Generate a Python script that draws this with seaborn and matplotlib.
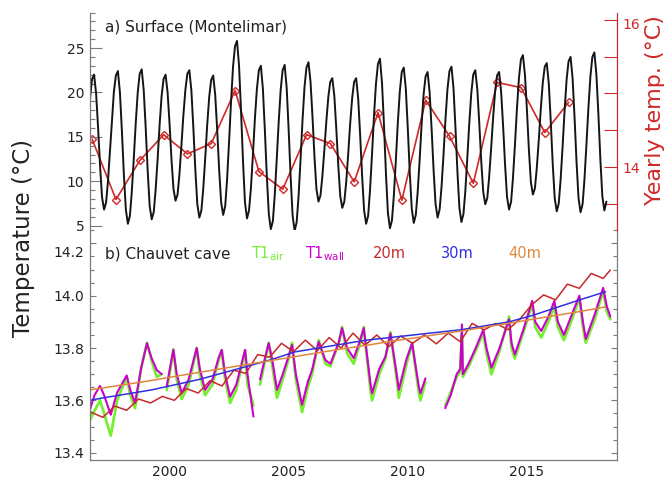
import numpy as np
import pandas as pd
import matplotlib
matplotlib.use("Agg")
import matplotlib.pyplot as plt
import seaborn as sns
from matplotlib.ticker import MultipleLocator, FixedLocator, FixedFormatter, FormatStrFormatter

sns.set_theme(style="white")
plt.rcParams["font.family"] = ["DejaVu Sans"]

# ---------------------------------------------------------------------------
# a) Montelimar surface air temperature, first-of-month values (°C)
surface_start = "1997-06-01"
surface_temp = [
    19.4, 21.5, 22.0, 19.9, 16.1, 11.7, 8.2,                          # 1997 Jun-Dec
    6.8, 7.6, 9.9, 13.4, 16.9, 20.1, 21.9, 22.4, 20.0, 15.7, 10.7, 6.8,  # 1998
    5.2, 6.1, 8.7, 12.5, 16.5, 20.0, 22.1, 22.6, 20.2, 16.0, 11.1, 7.2,  # 1999
    5.7, 6.5, 9.0, 12.5, 16.3, 19.6, 21.5, 22.0, 20.0, 16.5, 12.3, 9.1,  # 2000
    7.8, 8.5, 10.7, 14.0, 17.4, 20.3, 22.1, 22.5, 20.2, 16.0, 11.2, 7.4, # 2001
    5.9, 6.7, 9.1, 12.6, 16.3, 19.5, 21.4, 21.9, 19.7, 15.8, 11.2, 7.6,  # 2002
    6.2, 7.2, 10.1, 14.4, 18.9, 22.9, 25.2, 25.8, 23.0, 18.0, 12.2, 7.6, # 2003
    5.8, 6.7, 9.2, 13.0, 17.0, 20.4, 22.5, 23.0, 20.4, 15.8, 10.5, 6.3,  # 2004
    4.6, 5.5, 8.3, 12.4, 16.6, 20.3, 22.5, 23.1, 20.5, 15.8, 10.4, 6.1,  # 2005
    4.4, 5.4, 8.2, 12.4, 16.8, 20.6, 22.8, 23.4, 21.2, 17.3, 12.7, 9.1,  # 2006
    7.7, 8.4, 10.5, 13.5, 16.7, 19.5, 21.2, 21.6, 19.6, 15.9, 11.7, 8.3, # 2007
    7.0, 7.7, 9.9, 13.1, 16.5, 19.4, 21.2, 21.6, 19.3, 15.2, 10.5, 6.7,  # 2008
    5.2, 6.1, 8.9, 13.0, 17.3, 21.0, 23.2, 23.8, 21.1, 16.4, 10.8, 6.4,  # 2009
    4.7, 5.6, 8.3, 12.3, 16.5, 20.1, 22.3, 22.8, 20.4, 16.0, 10.9, 6.9,  # 2010
    5.3, 6.2, 8.7, 12.4, 16.4, 19.8, 21.8, 22.3, 20.0, 15.9, 11.2, 7.4,  # 2011
    5.9, 6.8, 9.3, 13.0, 17.0, 20.4, 22.4, 22.9, 20.5, 16.1, 11.0, 7.0,  # 2012
    5.4, 6.3, 8.8, 12.6, 16.5, 19.9, 22.0, 22.5, 20.4, 16.6, 12.2, 8.8,  # 2013
    7.4, 8.1, 10.4, 13.7, 17.1, 20.1, 21.9, 22.3, 20.1, 16.3, 11.8, 8.2, # 2014
    6.8, 7.7, 10.3, 14.1, 18.1, 21.6, 23.7, 24.2, 22.0, 18.1, 13.5, 9.9, # 2015
    8.5, 9.2, 11.5, 14.7, 18.1, 21.1, 22.9, 23.3, 21.0, 16.8, 11.9, 8.1, # 2016
    6.6, 7.5, 10.1, 13.9, 17.9, 21.4, 23.5, 24.0, 21.6, 17.2, 12.1, 8.1, # 2017
    6.5, 7.4, 10.1, 14.1, 18.2, 21.8, 24.0, 24.5, 22.0, 17.6, 12.4, 8.3, # 2018
    6.7, 7.7,                                                          # 2019 Jan-Feb
]

# Yearly mean temperature (°C), plotted at mid-year
yearly_years = list(range(1997, 2018))
yearly_temp = [14.38, 13.56, 14.09, 14.44, 14.18, 14.32, 15.04, 13.94, 13.70, 14.44,
               14.32, 13.80, 14.74, 13.55, 14.91, 14.42, 13.78, 15.15, 15.08, 14.47, 14.88]

# ---------------------------------------------------------------------------
# b) Chauvet cave temperatures (°C)
# T1 sensors: decimal year; None separates recording gaps
t1_time = [1997.38, 1997.60, 1997.83, 1998.00, 1998.28, 1998.55, 1998.95, 1999.10, 1999.30,
           1999.55, 1999.80, 2000.00, 2000.21, 2000.42, None,
           2000.63, 2000.80, 2000.91, 2001.05, 2001.26, 2001.55, 2001.89, 2002.02, 2002.24,
           2002.55, 2002.80, 2002.94, 2003.08, 2003.29, 2003.55, 2003.92, 2004.02, 2004.27, None,
           2004.55, 2004.75, 2004.91, 2005.05, 2005.26, 2005.50, 2005.75, 2005.89, 2006.05,
           2006.31, 2006.55, 2006.73, 2007.01, 2007.29, 2007.50, 2007.85, 2007.99, 2008.20,
           2008.48, 2008.75, 2008.90, 2009.18, 2009.25, 2009.55, 2009.81, 2010.02, 2010.30,
           2010.37, 2010.70, 2010.93, 2011.21, 2011.28, 2011.49, None,
           2012.32, 2012.55, 2012.80, 2012.95, 2013.02, 2013.06, 2013.30, 2013.60, 2013.92,
           2014.05, 2014.26, 2014.60, 2015.00, 2015.10, 2015.24, 2015.60, 2015.97, 2016.10,
           2016.35, 2016.65, 2016.90, 2017.05, 2017.30, 2017.60, 2017.95, 2018.10, 2018.22,
           2018.60, 2018.95, 2019.10, 2019.25]
t1_wall = [13.557, 13.620, 13.655, 13.620, 13.545, 13.630, 13.695, 13.640, 13.590,
           13.720, 13.818, 13.760, 13.716, 13.700, None,
           13.653, 13.740, 13.793, 13.700, 13.627, 13.680, 13.800, 13.720, 13.640,
           13.680, 13.760, 13.793, 13.700, 13.614, 13.660, 13.793, 13.700, 13.538, None,
           13.680, 13.760, 13.818, 13.760, 13.640, 13.700, 13.770, 13.812, 13.700,
           13.583, 13.670, 13.716, 13.824, 13.754, 13.740, 13.820, 13.876, 13.800,
           13.761, 13.830, 13.876, 13.665, 13.627, 13.720, 13.767, 13.856, 13.690,
           13.640, 13.760, 13.818, 13.653, 13.627, 13.684, None,
           13.570, 13.620, 13.700, 13.720, 13.890, 13.700, 13.740, 13.800, 13.870,
           13.800, 13.725, 13.800, 13.910, 13.820, 13.775, 13.870, 13.980, 13.900,
           13.865, 13.920, 13.980, 13.900, 13.850, 13.920, 14.000, 13.900, 13.835,
           13.930, 14.030, 13.960, 13.920]
t1_air = [13.520, 13.560, 13.600, 13.550, 13.465, 13.600, 13.690, 13.620, 13.570,
          13.720, 13.820, 13.750, 13.690, 13.700, None,
          13.640, 13.730, 13.795, 13.680, 13.605, 13.660, 13.800, 13.700, 13.620,
          13.660, 13.750, 13.790, 13.680, 13.590, 13.640, 13.790, 13.660, 13.580, None,
          13.660, 13.750, 13.820, 13.740, 13.610, 13.680, 13.760, 13.820, 13.680,
          13.555, 13.650, 13.700, 13.830, 13.740, 13.730, 13.820, 13.880, 13.780,
          13.740, 13.820, 13.880, 13.640, 13.600, 13.700, 13.760, 13.860, 13.670,
          13.610, 13.740, 13.820, 13.630, 13.600, 13.670, None,
          13.580, 13.630, 13.690, 13.710, 13.850, 13.690, 13.730, 13.790, 13.860,
          13.780, 13.700, 13.790, 13.920, 13.800, 13.760, 13.860, 13.970, 13.880,
          13.840, 13.900, 13.960, 13.880, 13.830, 13.900, 13.990, 13.880, 13.820,
          13.910, 14.020, 13.940, 13.910]

# Modelled temperature at 20 m depth (decimal year, value)
d20_time = [1997.40, 1997.95, 1998.45, 1998.95, 1999.45, 1999.95, 2000.45, 2000.95, 2001.45,
            2001.95, 2002.45, 2002.95, 2003.45, 2003.95, 2004.45, 2004.95, 2005.45, 2005.95,
            2006.45, 2006.95, 2007.45, 2007.95, 2008.45, 2008.95, 2009.45, 2009.95, 2010.45,
            2010.95, 2011.45, 2011.95, 2012.45, 2012.95, 2013.45, 2013.95, 2014.45, 2014.95,
            2015.45, 2015.95, 2016.45, 2016.95, 2017.45, 2017.95, 2018.45, 2018.95, 2019.25]
d20_temp = [13.557, 13.535, 13.578, 13.562, 13.605, 13.590, 13.615, 13.600, 13.645,
            13.628, 13.675, 13.655, 13.715, 13.703, 13.775, 13.765, 13.818, 13.786,
            13.830, 13.790, 13.840, 13.800, 13.857, 13.810, 13.850, 13.805, 13.846,
            13.818, 13.850, 13.816, 13.857, 13.824, 13.894, 13.869, 13.894, 13.870,
            13.910, 13.965, 14.003, 13.984, 14.044, 14.028, 14.085, 14.066, 14.098]

# Modelled temperature at 30 m and 40 m depth
depth_years = [1997.4, 1998, 1999, 2000, 2001, 2002, 2003, 2004, 2005, 2006, 2007, 2008,
               2009, 2010, 2011, 2012, 2013, 2014, 2015, 2016, 2017, 2018, 2019.05]
d30_temp = [13.600, 13.610, 13.625, 13.640, 13.660, 13.680, 13.705, 13.730, 13.755, 13.785,
            13.800, 13.815, 13.830, 13.840, 13.850, 13.860, 13.870, 13.885, 13.900, 13.925,
            13.955, 13.985, 14.015]
d40_temp = [13.640, 13.648, 13.662, 13.676, 13.692, 13.707, 13.722, 13.737, 13.752, 13.767,
            13.782, 13.797, 13.810, 13.825, 13.838, 13.852, 13.865, 13.880, 13.895, 13.910,
            13.925, 13.940, 13.957]

# ---------------------------------------------------------------------------
C_BLACK = "#151515"
C_RED = "#d02828"
C_AIR = "#77ee30"
C_WALL = "#cc00cc"
C_20 = "#c8282a"
C_30 = "#3030e0"
C_40 = "#e0883a"
C_AXIS = "#7a7a7a"
C_TEXT = "#222222"


def decimal_year(dates):
    return dates.year + (dates.dayofyear - 1) / np.where(dates.is_leap_year, 366, 365)


def segmented(times, values):
    """Split a series at None markers into a long frame with a segment id."""
    rows, seg = [], 0
    for t, v in zip(times, values):
        if t is None:
            seg += 1
            continue
        rows.append((t, v, seg))
    return pd.DataFrame(rows, columns=["year", "temp", "segment"])


surface = pd.DataFrame({
    "year": decimal_year(pd.date_range(surface_start, periods=len(surface_temp), freq="MS")),
    "temp": surface_temp,
})
yearly = pd.DataFrame({"year": np.array(yearly_years) + 0.5, "temp": yearly_temp})
wall = segmented(t1_time, t1_wall)
air = segmented(t1_time, t1_air)
d20 = pd.DataFrame({"year": d20_time, "temp": d20_temp})
d30 = pd.DataFrame({"year": depth_years, "temp": d30_temp})
d40 = pd.DataFrame({"year": depth_years, "temp": d40_temp})

fig = plt.figure(figsize=(6.67, 4.80), dpi=100)
left, right = 90 / 667, 617 / 667
ax_top = fig.add_axes([left, 250 / 480, right - left, 217.5 / 480])
ax_bot = fig.add_axes([left, 20 / 480, right - left, 230 / 480], sharex=ax_top)
ax_r = ax_top.twinx()
for a in (ax_top, ax_bot, ax_r):
    a.set_facecolor("none")
ax_top.set_zorder(ax_r.get_zorder() + 1)

XMIN, XMAX = 1997.41, 2019.53

# --- panel a
sns.lineplot(data=surface, x="year", y="temp", ax=ax_top, color=C_BLACK, lw=1.4)
sns.lineplot(data=yearly, x="year", y="temp", ax=ax_r, color=C_RED, lw=1.2,
             marker="D", markersize=4.2, markerfacecolor="none", markeredgecolor=C_RED,
             markeredgewidth=1.0)

ax_top.set_xlim(XMIN, XMAX)
ax_top.set_ylim(4.5, 29.0)
ax_r.set_ylim(13.146, 16.10)
ax_top.set_xlabel("")
ax_top.set_ylabel("")
ax_r.set_ylabel("")

ax_top.yaxis.set_major_locator(FixedLocator([5, 10, 15, 20, 25]))
ax_top.yaxis.set_minor_locator(MultipleLocator(1))
ax_top.yaxis.set_major_formatter(FormatStrFormatter("%d"))
ax_top.tick_params(axis="y", which="major", direction="in", length=8.5, width=0.8,
                   color=C_AXIS, labelsize=10, labelcolor=C_TEXT, pad=4)
ax_top.tick_params(axis="y", which="minor", direction="in", length=3.6, width=0.8, color=C_AXIS)
ax_top.tick_params(axis="x", which="both", bottom=False, top=False, labelbottom=False)

ax_r.yaxis.set_major_locator(FixedLocator([14, 16]))
ax_r.yaxis.set_minor_locator(FixedLocator([13.5, 14.5, 15.0, 15.5]))
ax_r.yaxis.set_major_formatter(FixedFormatter(["14", ""]))
ax_r.tick_params(axis="y", which="both", direction="in", length=9.5, width=0.8,
                 color=C_RED, labelcolor=C_RED, labelsize=10, pad=4)
ax_r.tick_params(axis="x", which="both", bottom=False, top=False, labelbottom=False)
# the top label sits a little below its tick
ax_r.annotate("16", xy=(1, 16), xycoords=("axes fraction", "data"), xytext=(4, -4),
              textcoords="offset points", ha="left", va="center", fontsize=10, color=C_RED)

for s in ("top", "bottom", "right"):
    ax_top.spines[s].set_visible(False)
for s in ("top", "bottom", "left"):
    ax_r.spines[s].set_visible(False)
ax_top.spines["left"].set_color(C_AXIS)
ax_r.spines["right"].set_color(C_RED)
ax_top.spines["left"].set_linewidth(0.9)
ax_r.spines["right"].set_linewidth(0.9)

ax_top.text(0.0285, 0.933, "a) Surface (Montelimar)", transform=ax_top.transAxes,
            fontsize=11, color=C_TEXT, va="center", ha="left")

# --- panel b
sns.lineplot(data=air, x="year", y="temp", units="segment", estimator=None, ax=ax_bot,
             color=C_AIR, lw=2.0, sort=False)
sns.lineplot(data=wall, x="year", y="temp", units="segment", estimator=None, ax=ax_bot,
             color=C_WALL, lw=1.5, sort=False)
sns.lineplot(data=d20, x="year", y="temp", ax=ax_bot, color=C_20, lw=1.1)
sns.lineplot(data=d30, x="year", y="temp", ax=ax_bot, color=C_30, lw=1.1)
sns.lineplot(data=d40, x="year", y="temp", ax=ax_bot, color=C_40, lw=1.1)

ax_bot.set_xlim(XMIN, XMAX)
ax_bot.set_ylim(13.372, 14.251)
ax_bot.set_xlabel("")
ax_bot.set_ylabel("")

ax_bot.yaxis.set_major_locator(FixedLocator([13.4, 13.6, 13.8, 14.0, 14.2]))
ax_bot.yaxis.set_minor_locator(MultipleLocator(0.05))
ax_bot.yaxis.set_major_formatter(FixedFormatter(["13.4", "13.6", "13.8", "14.0", ""]))
ax_bot.tick_params(axis="y", which="major", direction="in", length=4.5, width=0.8,
                   color=C_AXIS, labelsize=10, labelcolor=C_TEXT, left=True, right=True, pad=4)
ax_bot.tick_params(axis="y", which="minor", direction="in", length=3.2, width=0.8,
                   color=C_AXIS, left=True, right=True)
ax_bot.annotate("14.2", xy=(0, 14.2), xycoords=("axes fraction", "data"), xytext=(-4, -7),
                textcoords="offset points", ha="right", va="center", fontsize=10, color=C_TEXT)

ax_bot.xaxis.remove_overlapping_locs = False
ax_bot.xaxis.set_major_locator(FixedLocator([2000, 2005, 2010, 2015]))
ax_bot.xaxis.set_minor_locator(MultipleLocator(1))
ax_bot.xaxis.set_major_formatter(FormatStrFormatter("%d"))
ax_bot.tick_params(axis="x", which="major", direction="out", length=8, width=0.8,
                   color=C_AXIS, labelsize=10, labelcolor=C_TEXT, pad=-4.5)
ax_bot.tick_params(axis="x", which="minor", direction="in", length=3, width=0.8, color=C_AXIS)
for lab in ax_bot.get_xticklabels():
    lab.set_horizontalalignment("left")

ax_bot.spines["top"].set_visible(False)
for s in ("left", "right", "bottom"):
    ax_bot.spines[s].set_color(C_AXIS)
    ax_bot.spines[s].set_linewidth(0.9)

ty = 0.896
ax_bot.text(0.0285, ty, "b) Chauvet cave", transform=ax_bot.transAxes, fontsize=11,
            color=C_TEXT, va="center", ha="left")
ax_bot.text(0.305, ty, r"T1$_{\mathrm{air}}$", transform=ax_bot.transAxes, fontsize=10.5,
            color=C_AIR, va="center", ha="left")
ax_bot.text(0.408, ty, r"T1$_{\mathrm{wall}}$", transform=ax_bot.transAxes, fontsize=10.5,
            color=C_WALL, va="center", ha="left")
ax_bot.text(0.5375, ty, "20m", transform=ax_bot.transAxes, fontsize=10.5, color=C_20,
            va="center", ha="left")
ax_bot.text(0.6655, ty, "30m", transform=ax_bot.transAxes, fontsize=10.5, color=C_30,
            va="center", ha="left")
ax_bot.text(0.793, ty, "40m", transform=ax_bot.transAxes, fontsize=10.5, color=C_40,
            va="center", ha="left")

fig.text(0.0345, 0.505, "Temperature (°C)", rotation=90, ha="center", va="center",
         fontsize=16.5, color=C_TEXT)
fig.text(0.9825, 0.771, "Yearly temp. (°C)", rotation=90, ha="center", va="center",
         fontsize=16, color=C_RED)

fig.savefig("out.png", dpi=100)
